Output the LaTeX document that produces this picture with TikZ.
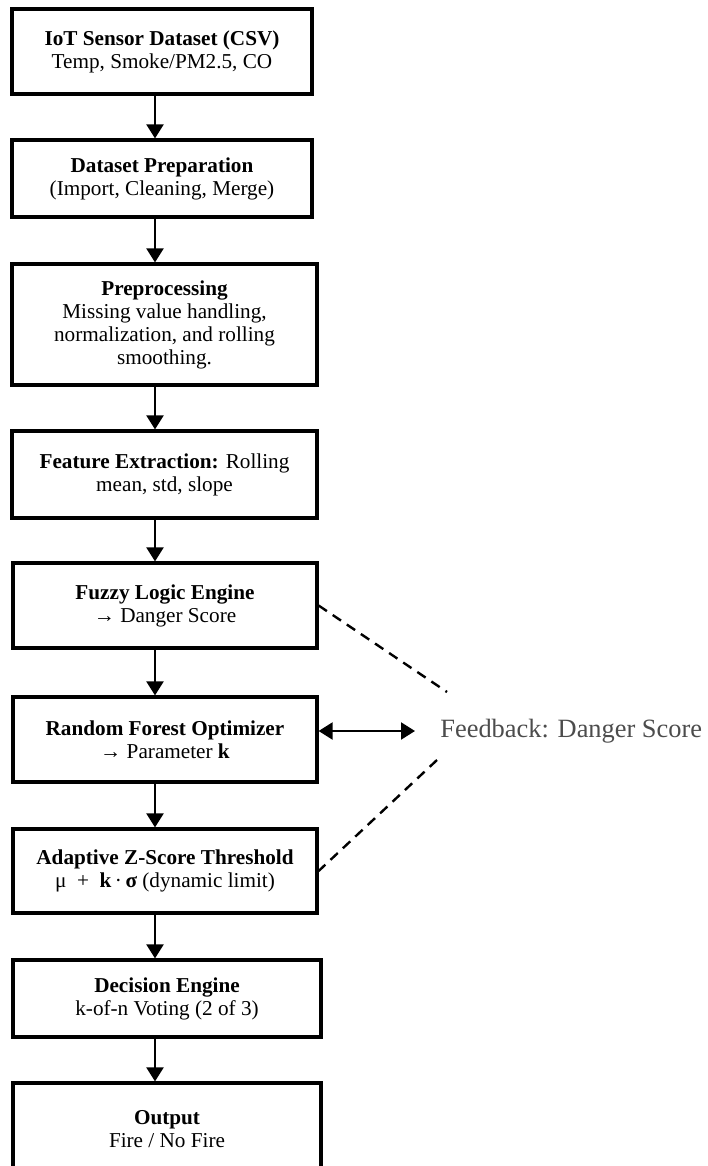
\documentclass[tikz,border=0pt]{standalone}
\usepackage{fontspec}
\setmainfont{Liberation Serif}
\usetikzlibrary{arrows.meta}

\begin{document}
\begin{tikzpicture}[x=0.5pt, y=-0.5pt,
		box/.style={draw, line width=1.6pt, align=center, inner sep=0pt, font=\fontsize{10.6}{11.5}\selectfont},
		flow/.style={line width=1.1pt, -{Triangle[length=7pt,width=8.5pt]}},
		twoway/.style={line width=1.1pt, {Triangle[length=7pt,width=8.5pt]}-{Triangle[length=7pt,width=8.5pt]}},
		feedback/.style={line width=1.2pt, dash pattern=on 5pt off 3.5pt},
		fbtext/.style={inner sep=4pt, text=black!70, font=\fontsize{13.2}{15}\selectfont}]
			%%%%% START %%%%%
			
			\useasboundingbox (0, 0) rectangle (707, 1166);
			
			% main chain
			\node[box, minimum width=150pt, minimum height=42.5pt] (iot) at (162, 51.5) {\textbf{IoT Sensor Dataset (CSV)}\\Temp, Smoke/PM2.5, CO};
			\node[box, minimum width=150pt, minimum height=38.5pt] (prep) at (162, 178.5) {\textbf{Dataset Preparation}\\(Import, Cleaning, Merge)};
			\node[box, minimum width=152.5pt, minimum height=60.5pt] (pre) at (164.5, 324.5) {\textbf{Preprocessing}\\Missing value handling,\\normalization, and rolling\\smoothing.};
			\node[box, minimum width=152.5pt, minimum height=43.5pt] (feat) at (164.5, 474.5) {\textbf{Feature Extraction:} Rolling\\mean, std, slope};
			\node[box, minimum width=152pt, minimum height=42.5pt] (fuzzy) at (165, 605.5) {\textbf{Fuzzy Logic Engine}\\→ Danger Score};
			\node[box, minimum width=152pt, minimum height=42.5pt] (forest) at (165, 739.5) {\textbf{Random Forest Optimizer}\\→ Parameter \textbf{k}};
			\node[box, minimum width=152pt, minimum height=42pt] (zscore) at (165, 871) {\textbf{Adaptive Z-Score Threshold}\\μ \ + \ \textbf{k}\,·\,\textbf{σ} (dynamic limit)};
			\node[box, minimum width=154pt, minimum height=38.5pt] (decide) at (167, 998.5) {\textbf{Decision Engine}\\k-of-n Voting (2 of 3)};
			\node[box, minimum width=154pt, minimum height=46pt] (out) at (167, 1129) {\textbf{Output}\\Fire / No Fire};
			
			\coordinate (spine) at (155, 0);
			\foreach \a/\b in {iot/prep, prep/pre, pre/feat, feat/fuzzy, fuzzy/forest, forest/zscore, zscore/decide, decide/out}
				\draw[flow] (\a.south -| spine) -- (\b.north -| spine);
			
			% feedback side
			\node[fbtext, anchor=west] (fb) at (432, 731) {Feedback: Danger Score};
			\draw[twoway] (forest.east |- fb.west) -- ([xshift=-8.5pt]fb.west);
			
			\coordinate (upper) at (447, 692);
			\coordinate (lower) at (437, 760);
			\draw[feedback] (fuzzy.east) -- (upper);
			\draw[feedback] (lower) -- (zscore.east);
			
			%%%%% END %%%%%
		\end{tikzpicture}
\end{document}
